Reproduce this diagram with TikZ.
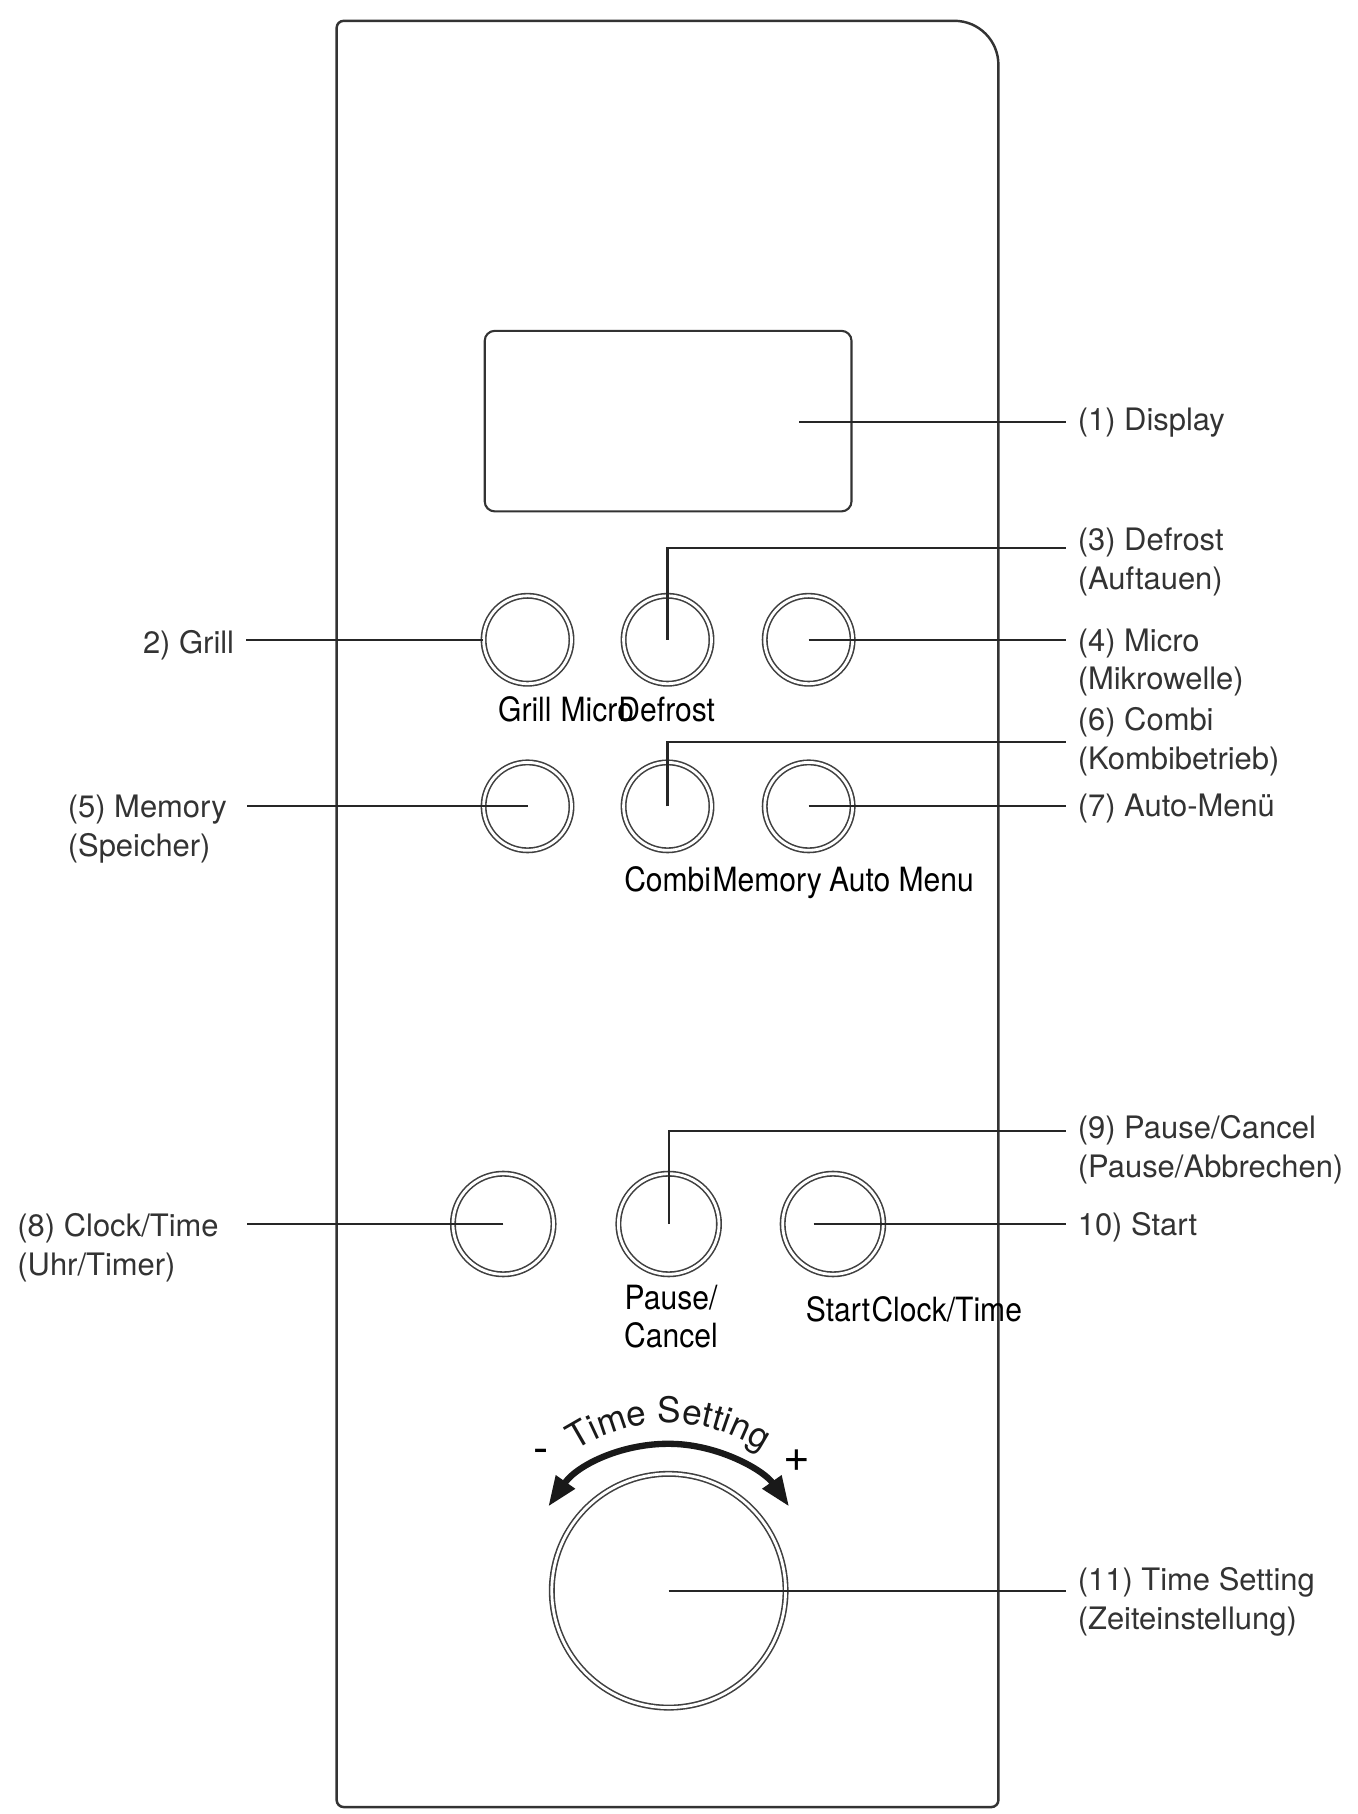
\documentclass[tikz,border=0pt]{standalone}
\usepackage{fontspec}
\setmainfont{TeX Gyre Heros}
\newfontfamily\keyfamily[FakeStretch=0.9]{TeX Gyre Heros}
\usetikzlibrary{arrows.meta, decorations.text}

\newcommand{\partfont}{\fontsize{8.8}{11}\selectfont}
\newcommand{\keyfont}{\keyfamily\fontsize{9.5}{11}\selectfont}

\begin{document}
\begin{tikzpicture}[
  x=0.011569cm, y=-0.011569cm,
  panel/.style={draw=black!80, line width=0.7pt},
  keyring/.style={circle, draw=black!75, line width=0.45pt, double=white, double distance=0.8pt, minimum size=0.879cm, inner sep=0pt},
  bigkey/.style={keyring, minimum size=1.006cm},
  leaderline/.style={draw=black!85, line width=0.6pt},
  partlabel/.style={font=\partfont, text=black!80, align=left, inner xsep=3.3pt, inner ysep=0pt},
  keylabel/.style={font=\keyfont, inner sep=0pt, anchor=base west},
  dialtip/.tip={Triangle[length=0.3cm, width=0.22cm]}
]
  \useasboundingbox (0,0) rectangle (1173,1568);

  % front panel and display
  \draw[panel] (291,1562) [rounded corners=2pt] -- (291,18) [rounded corners=12.5pt] -- (863,18) [rounded corners=2pt] -- (863,1562) -- cycle;
  \node[draw=black!80, line width=0.6pt, rounded corners=0.1cm, minimum width=3.667cm, minimum height=1.805cm] (display) at (577.5,364) {};
  \coordinate (display-tap) at (691,365);

  % keys
  \node[keyring] (grill) at (456,553) {};
  \node[keyring] (defrost) at (577,553) {};
  \node[keyring] (micro) at (699,553) {};
  \node[keyring] (memory) at (456,697) {};
  \node[keyring] (combi) at (577,697) {};
  \node[keyring] (automenu) at (699,697) {};
  \node[bigkey] (clock) at (435,1058) {};
  \node[bigkey] (pause) at (578,1058) {};
  \node[bigkey] (start) at (720,1058) {};
  \node[keyring, minimum size=2.337cm] (dial) at (578,1375) {};

  % printed key names (two-line nodes sit on their last line)
  \node[keylabel] (t-grill) at (430,624) {Grill};
  \node[keylabel] (t-micro) at (484,624) {Micro};
  \node[keylabel] (t-defrost) at (534,624) {Defrost};
  \node[keylabel] (t-combi) at (539,771) {Combi};
  \node[keylabel] (t-memory) at (t-combi.base east) {Memory};
  \node[keylabel] (t-auto) at (716,771) {Auto Menu};
  \node[keylabel, anchor=base, align=center] (t-pause) at (580,1165) {Pause/\\Cancel};
  \node[keylabel] (t-start) at (696,1142) {Start};
  \node[keylabel] (t-clock) at (t-start.base east) {Clock/Time};

  % dial marking
  \path[decorate, decoration={text along path, text align=center, text color=black!90,
      text={|\fontsize{10}{12}\selectfont|Time Setting}}]
    ([shift={(-150:145)}]dial.center) arc[start angle=-150, end angle=-30, radius=145];
  \draw[line width=1.8pt, black!90, dialtip-dialtip]
    ([shift={(-145:127)}]dial.center) arc[start angle=-145, end angle=-35, radius=127];
  \node[font=\fontsize{13}{13}\selectfont, inner sep=0pt] (minus) at (468,1259) {-};
  \node[font=\fontsize{13}{13}\selectfont, inner sep=0pt] (plus) at (689,1263) {+};

  % part labels
  \node[partlabel, anchor=base west] (p1) at (921,372) {(1) Display};
  \node[partlabel, anchor=base east] (p2) at (213,564.5) {2) Grill};
  \node[partlabel, anchor=base west] (p3) at (921,509.4) {(3) Defrost\\(Auftauen)};
  \node[partlabel, anchor=base west] (p4) at (921,596.4) {(4) Micro\\(Mikrowelle)};
  \node[partlabel, anchor=base west] (p5) at (48,740.4) {(5) Memory\\(Speicher)};
  \node[partlabel, anchor=base west] (p6) at (921,665) {(6) Combi\\(Kombibetrieb)};
  \node[partlabel, anchor=base west] (p7) at (921,706) {(7) Auto-Menü};
  \node[partlabel, anchor=base west] (p8) at (4.4,1102.4) {(8) Clock/Time\\(Uhr/Timer)};
  \node[partlabel, anchor=base west] (p9) at (921,1017.4) {(9) Pause/Cancel\\(Pause/Abbrechen)};
  \node[partlabel, anchor=base west] (p10) at (921,1068) {10) Start};
  \node[partlabel, anchor=base west] (p11) at (921,1408.4) {(11) Time Setting\\(Zeiteinstellung)};

  % leaders
  \draw[leaderline] (display-tap) -- (display-tap -| p1.west);
  \draw[leaderline] (grill.west) -- (grill.west -| p2.east);
  \draw[leaderline] (defrost.center) |- ([yshift=11.65pt]p3.base west);
  \draw[leaderline] (micro.center) -- (micro.center -| p4.west);
  \draw[leaderline] (memory.center) -- ([xshift=2.3pt]memory.center -| p5.east);
  \draw[leaderline] (combi.center) |- (p6.west);
  \draw[leaderline] (automenu.center) -- (automenu.center -| p7.west);
  \draw[leaderline] (clock.center) -- ([xshift=4.5pt]clock.center -| p8.east);
  \draw[leaderline] (pause.center) |- ([yshift=12.97pt]p9.base west);
  \draw[leaderline] ([xshift=-5.5pt]start.center) -- (start.center -| p10.west);
  \draw[leaderline] (dial.center) -- (dial.center -| p11.west);
\end{tikzpicture}
\end{document}
